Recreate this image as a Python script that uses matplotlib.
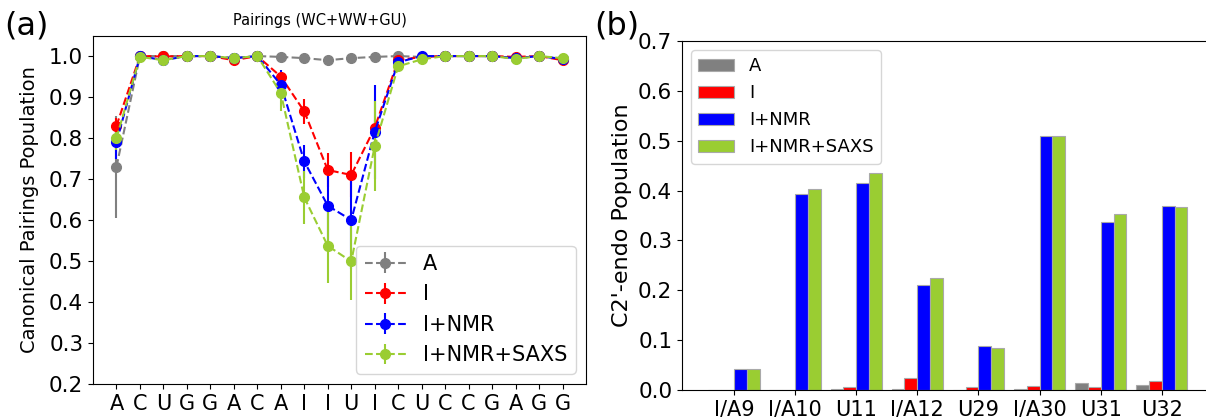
import numpy as np
import matplotlib.pyplot as plt

# panel (a): canonical pairings per nucleotide
seq = ['A', 'C', 'U', 'G', 'G', 'A', 'C', 'A', 'I', 'I', 'U', 'I', 'C', 'U', 'C', 'C', 'G', 'A', 'G', 'G']
pair_A = [0.73, 1.0, 1.0, 1.0, 1.0, 0.995, 1.0, 0.998, 0.995, 0.99, 0.995, 0.998, 1.0, 0.998, 1.0, 1.0, 1.0, 0.995, 1.0, 0.993]
err_A = [0.125, 0.003, 0.003, 0.002, 0.002, 0.003, 0.002, 0.003, 0.004, 0.005, 0.004, 0.003, 0.003, 0.003, 0.002, 0.002, 0.002, 0.003, 0.002, 0.003]
pair_I = [0.83, 1.0, 0.999, 1.0, 1.0, 0.99, 1.0, 0.95, 0.865, 0.722, 0.71, 0.825, 0.99, 0.998, 1.0, 1.0, 1.0, 0.998, 1.0, 0.99]
err_I = [0.02, 0.003, 0.003, 0.002, 0.002, 0.004, 0.002, 0.012, 0.03, 0.042, 0.055, 0.02, 0.005, 0.003, 0.002, 0.002, 0.002, 0.003, 0.002, 0.004]
pair_NMR = [0.79, 1.0, 0.99, 1.0, 1.0, 0.995, 1.0, 0.93, 0.743, 0.635, 0.60, 0.815, 0.985, 1.0, 1.0, 1.0, 1.0, 0.995, 1.0, 0.993]
err_NMR = [0.04, 0.003, 0.004, 0.002, 0.002, 0.003, 0.002, 0.035, 0.04, 0.085, 0.12, 0.115, 0.008, 0.003, 0.002, 0.002, 0.002, 0.003, 0.002, 0.004]
pair_SAXS = [0.80, 0.998, 0.99, 1.0, 1.0, 0.995, 1.0, 0.91, 0.655, 0.537, 0.499, 0.78, 0.975, 0.992, 1.0, 1.0, 1.0, 0.993, 1.0, 0.995]
err_SAXS = [0.03, 0.003, 0.005, 0.002, 0.002, 0.003, 0.002, 0.045, 0.065, 0.09, 0.095, 0.11, 0.01, 0.004, 0.002, 0.002, 0.002, 0.003, 0.002, 0.003]

# panel (b): C2'-endo populations
res = ['I/A9', 'I/A10', 'U11', 'I/A12', 'U29', 'I/A30', 'U31', 'U32']
c2_A = [0.001, 0.0, 0.002, 0.003, 0.001, 0.002, 0.014, 0.011]
c2_I = [0.0, 0.001, 0.007, 0.025, 0.006, 0.008, 0.006, 0.019]
c2_NMR = [0.043, 0.393, 0.415, 0.21, 0.088, 0.509, 0.337, 0.37]
c2_SAXS = [0.042, 0.403, 0.436, 0.224, 0.085, 0.510, 0.353, 0.368]

labels = ['A', 'I', 'I+NMR', 'I+NMR+SAXS']
colors = ['grey', 'red', 'blue', 'yellowgreen']

fig = plt.figure(figsize=(12.06, 4.17), dpi=100)
W, H = 1206, 417
ax1 = fig.add_axes([93/W, 1-384/H, (586-93)/W, (384-36)/H])
ax2 = fig.add_axes([682/W, 1-390/H, (1215-682)/W, (390-41)/H])

x = np.arange(len(seq))
for y, e, lab, c in zip([pair_A, pair_I, pair_NMR, pair_SAXS], [err_A, err_I, err_NMR, err_SAXS], labels, colors):
    ax1.errorbar(x, y, yerr=e, fmt='o--', color=c, label=lab, markersize=7, linewidth=1.5, elinewidth=1.5)
ax1.set_xticks(x)
ax1.set_xticklabels(seq, fontsize=15)
ax1.set_xlim(-1, 20)
ax1.set_ylim(0.2, 1.049)
ax1.set_yticks(np.arange(0.2, 1.01, 0.1))
ax1.tick_params(axis='y', labelsize=15.5)
ax1.set_ylabel('Canonical Pairings Population', fontsize=14, labelpad=7)
ax1.set_title('Pairings (WC+WW+GU)', fontsize=10.5, pad=8, x=0.46)
ax1.legend(loc='lower right', fontsize=15)
fig.text(4/W, 1-26/H, '(a)', fontsize=23, va='center')

xb = np.arange(len(res))
w = 0.21
for i, (v, lab, c) in enumerate(zip([c2_A, c2_I, c2_NMR, c2_SAXS], labels, colors)):
    ax2.bar(xb + (i - 1.5) * w, v, w, color=c, edgecolor='darkgrey', linewidth=0.8, label=lab)
ax2.set_xticks(xb)
ax2.set_xticklabels(res, fontsize=15)
ax2.set_xlim(-0.85, 7.87)
ax2.set_ylim(0, 0.7)
ax2.tick_params(axis='y', labelsize=15.5)
ax2.set_ylabel("C2'-endo Population", fontsize=16)
ax2.spines['right'].set_visible(False)
ax2.legend(loc='upper left', fontsize=13)
fig.text(594/W, 1-26/H, '(b)', fontsize=23, va='center')

plt.savefig('out.png', dpi=100)
